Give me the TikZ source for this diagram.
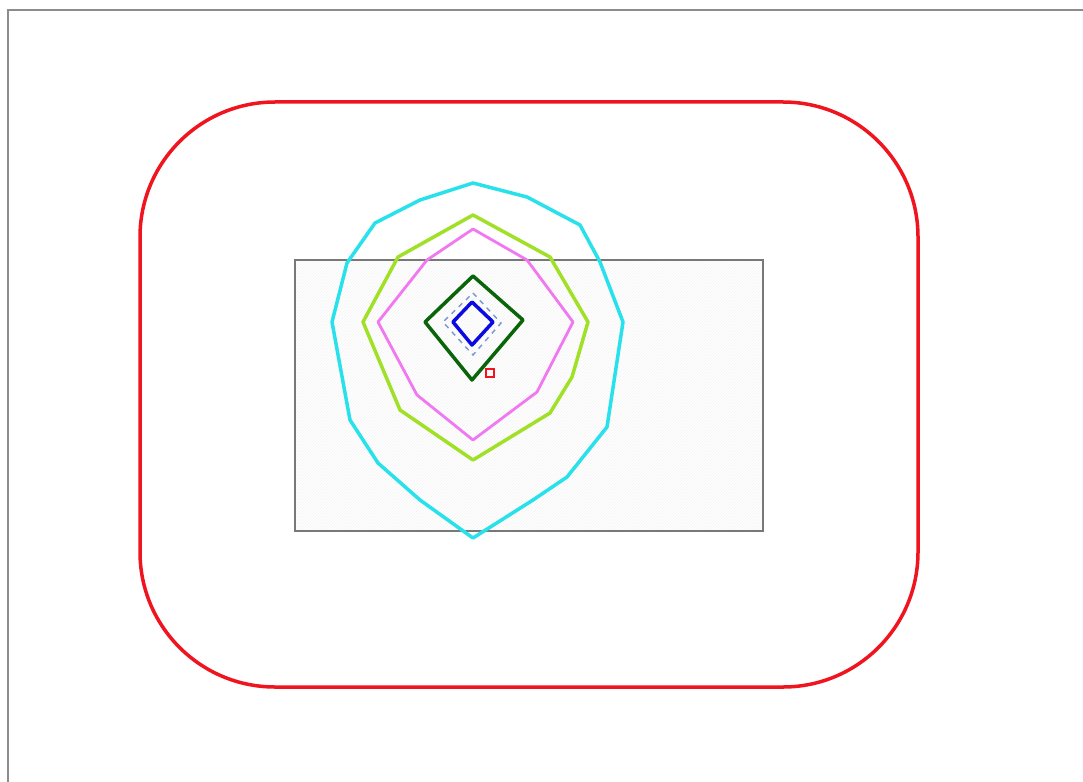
\documentclass[tikz,border=0pt]{standalone}
\usetikzlibrary{patterns}
\definecolor{framegray}{RGB}{140,140,140}
\definecolor{rectgray}{RGB}{120,120,120}
\definecolor{redc}{RGB}{240,20,30}
\definecolor{cyanc}{RGB}{40,225,235}
\definecolor{limec}{RGB}{160,225,40}
\definecolor{magc}{RGB}{240,120,240}
\definecolor{dgreen}{RGB}{10,100,10}
\definecolor{bluec}{RGB}{10,10,225}
\definecolor{dashc}{RGB}{120,150,210}
\definecolor{hatchc}{RGB}{244,244,244}
\tikzset{
  contour/.style={line width=3.5pt, line join=round},
}
\begin{document}
\begin{tikzpicture}[x=1pt,y=-1pt]
\useasboundingbox (0,0) rectangle (1083,781);
\fill[white] (0,0) rectangle (1083,781);
% outer frame
\draw[framegray, line width=2.6pt] (8,790) -- (8,10) -- (1090,10);
% grey rectangle with faint hatching
\fill[pattern=north east lines, pattern color=hatchc] (295,260) rectangle (763,531);
\draw[rectgray, line width=2.4pt] (295,260) rectangle (763,531);
% red rounded boundary
\draw[redc, line width=3.5pt, rounded corners=135pt] (140,102) rectangle (918,687);
% cyan
\draw[contour, cyanc] (473,183) -- (527,197) -- (580,225) -- (600,262) -- (623,322) -- (607,427) -- (567,477)
  -- (533,500) -- (473,538) -- (420,500) -- (378,463) -- (350,420) -- (332,322) -- (347,263) -- (375,223) -- (420,200) -- cycle;
% lime
\draw[contour, limec] (473,215) -- (550,257) -- (588,322) -- (572,377) -- (550,413) -- (473,460) -- (400,410) -- (363,322) -- (398,257) -- cycle;
% magenta
\draw[contour, magc, line width=2.8pt] (473,229) -- (527,260) -- (573,322) -- (537,392) -- (473,440) -- (417,395) -- (378,322) -- (427,260) -- cycle;
% dark green diamond
\draw[contour, dgreen] (473,276) -- (523,320) -- (472,380) -- (425,322) -- cycle;
% dashed diamond
\draw[dashc, line width=1.4pt, dash pattern=on 5pt off 5pt] (473,293) -- (501,323) -- (473,355) -- (443,322) -- cycle;
% blue diamond
\draw[contour, bluec] (472,302) -- (493,322) -- (472,345) -- (453,322) -- cycle;
% small red square
\draw[redc, line width=2.8pt] (486,369) rectangle (494,377);
\end{tikzpicture}
\end{document}
